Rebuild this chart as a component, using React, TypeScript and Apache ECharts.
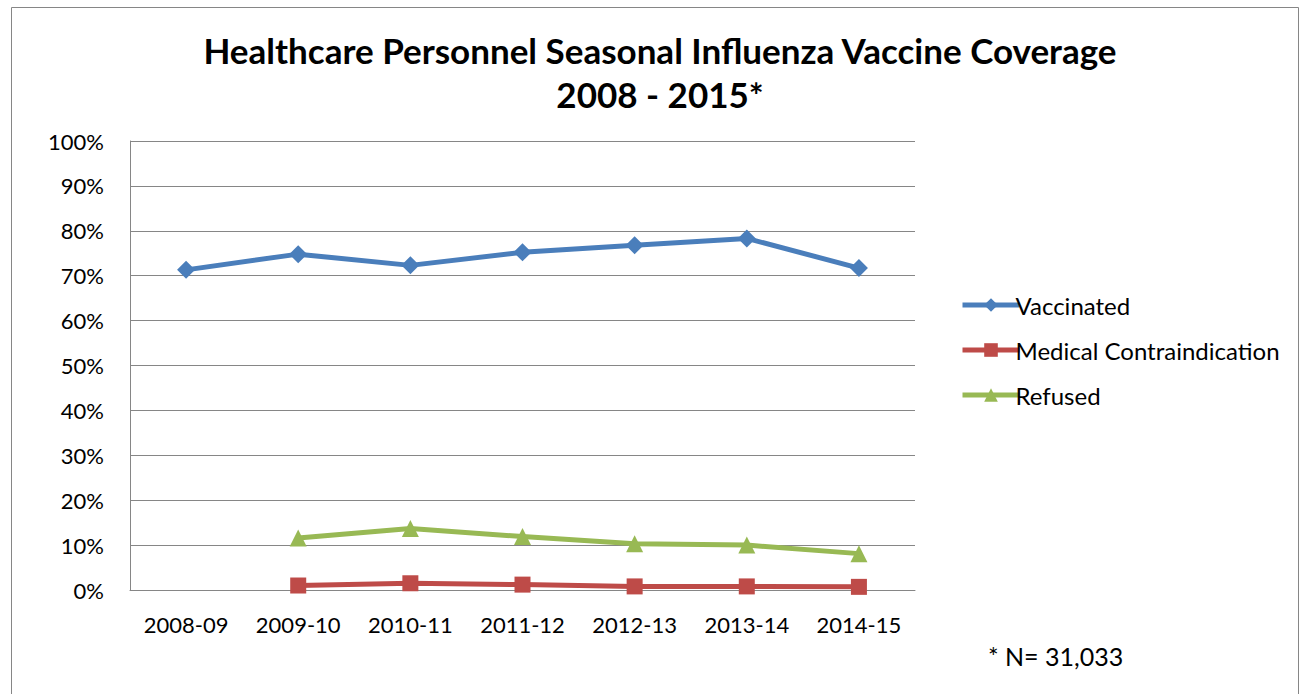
import React, { useEffect, useRef } from "react";
import * as echarts from "echarts";

const categories = ["2008-09", "2009-10", "2010-11", "2011-12", "2012-13", "2013-14", "2014-15"];
const vaccinated = [71.3, 74.8, 72.3, 75.2, 76.8, 78.3, 71.7];
const medical = [null, 1.0, 1.5, 1.2, 0.8, 0.8, 0.7];
const refused = [null, 11.6, 13.7, 11.9, 10.3, 10.0, 8.1];
const titleLines = ["Healthcare Personnel Seasonal Influenza Vaccine Coverage", "2008 - 2015*"];
const footnote = "* N= 31,033";

const FONT = "Lato, 'Noto Sans', sans-serif";

export default function App() {
  const ref = useRef<HTMLDivElement>(null);
  useEffect(() => {
    if (!ref.current) return;
    const chart = echarts.init(ref.current, null, { renderer: "svg" });
    chart.setOption({
      animation: false,
      backgroundColor: "#ffffff",
      title: {
        text: titleLines.join("\n"),
        left: 655,
        textAlign: "center",
        top: 23,
        textStyle: {
          fontFamily: FONT,
          fontWeight: "bold",
          fontSize: 35,
          lineHeight: 44,
          color: "#000",
        },
      },
      grid: { left: 130, top: 141, width: 785, height: 449, containLabel: false },
      legend: {
        orient: "vertical",
        left: 955,
        top: 288,
        itemWidth: 57,
        itemHeight: 17,
        itemGap: 21,
        lineStyle: { width: 5 },
        textStyle: { fontFamily: FONT, fontSize: 24, color: "#000", padding: [0, 0, 0, -9] },
        data: ["Vaccinated", "Medical Contraindication", "Refused"],
      },
      xAxis: {
        type: "category",
        data: categories,
        boundaryGap: true,
        axisLine: { lineStyle: { color: "#868686", width: 1 } },
        axisTick: { show: false },
        axisLabel: { fontFamily: FONT, fontSize: 22, color: "#000", margin: 23 },
      },
      yAxis: {
        type: "value",
        min: 0,
        max: 100,
        interval: 10,
        axisLine: { show: true, lineStyle: { color: "#868686", width: 1 } },
        axisTick: { show: false },
        splitLine: { lineStyle: { color: "#868686", width: 1 } },
        axisLabel: { fontFamily: FONT, fontSize: 22, color: "#000", margin: 26, formatter: "{value}%" },
      },
      series: [
        {
          name: "Vaccinated",
          type: "line",
          data: vaccinated,
          color: "#4A7EBB",
          lineStyle: { width: 5, color: "#4A7EBB" },
          symbol: "diamond",
          symbolSize: 18,
          itemStyle: { color: "#4A7EBB" },
        },
        {
          name: "Medical Contraindication",
          type: "line",
          data: medical,
          color: "#BE4B48",
          lineStyle: { width: 5, color: "#BE4B48" },
          symbol: "rect",
          symbolSize: 16,
          itemStyle: { color: "#BE4B48" },
        },
        {
          name: "Refused",
          type: "line",
          data: refused,
          color: "#98B954",
          lineStyle: { width: 5, color: "#98B954" },
          symbol: "triangle",
          symbolSize: 17,
          itemStyle: { color: "#98B954" },
        },
      ],
      graphic: [
        {
          type: "rect",
          shape: { x: 11.5, y: 7.5, width: 1287, height: 700 },
          style: { fill: "none", stroke: "#868686", lineWidth: 1 },
          silent: true,
        },
        {
          type: "text",
          left: 988,
          top: 643,
          style: { text: footnote, fontFamily: FONT, fontSize: 25, fill: "#000" },
        },
      ],
    });
    return () => chart.dispose();
  }, []);
  return <div ref={ref} style={{ position: "fixed", left: 0, top: 0, width: 1301, height: 694 }} />;
}
